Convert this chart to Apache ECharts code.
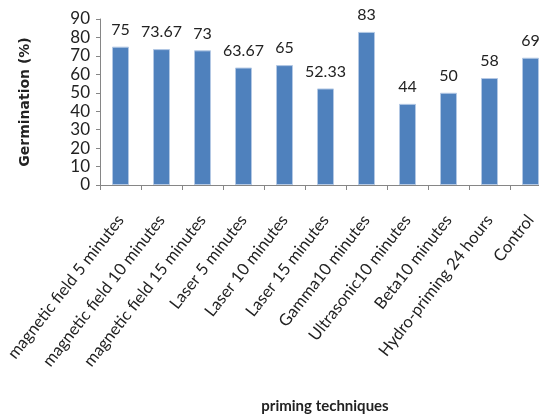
<!DOCTYPE html>
<html>
<head>
<meta charset="utf-8">
<script src="https://cdn.jsdelivr.net/npm/echarts@6/dist/echarts.min.js"></script>
<style>
  html, body { margin: 0; padding: 0; background: #ffffff; }
  #chart { width: 539px; height: 417px; }
</style>
</head>
<body>
<div id="chart"></div>
<script>
// Germination percentage for each seed priming technique
const categories = [
  'magnetic field 5 minutes',
  'magnetic field 10 minutes',
  'magnetic field 15 minutes',
  'Laser 5 minutes',
  'Laser 10 minutes',
  'Laser 15 minutes',
  'Gamma10 minutes',
  'Ultrasonic10 minutes',
  'Beta10 minutes',
  'Hydro-priming 24 hours',
  'Control'
];
const germination = [75, 73.67, 73, 63.67, 65, 52.33, 83, 44, 50, 58, 69];
const yTicks = [0, 10, 20, 30, 40, 50, 60, 70, 80, 90];

const font = 'Lato, "Open Sans", sans-serif';
const chart = echarts.init(document.getElementById('chart'), null, { renderer: 'canvas' });

chart.setOption({
  animation: false,
  backgroundColor: '#ffffff',
  // plot area runs slightly past the right edge of the canvas
  grid: {
    left: 100, width: 451, top: 19, height: 166,
    containLabel: false,
    outerBoundsMode: 'none'
  },
  xAxis: {
    type: 'category',
    data: categories,
    axisLine: { lineStyle: { color: '#868686', width: 1 } },
    axisTick: { show: true, length: 5, lineStyle: { color: '#868686' } },
    axisLabel: {
      rotate: 52,
      interval: 0,
      margin: 32,
      fontFamily: font,
      fontSize: 16.5,
      color: '#222222'
    }
  },
  yAxis: {
    type: 'value',
    min: yTicks[0],
    max: yTicks[yTicks.length - 1],
    interval: 10,
    splitLine: { show: false },
    axisLine: { show: true, lineStyle: { color: '#868686', width: 1 } },
    axisTick: { show: true, length: 4, lineStyle: { color: '#868686' } },
    axisLabel: {
      margin: 10,
      fontFamily: font,
      fontSize: 17,
      color: '#222222'
    }
  },
  series: [{
    type: 'bar',
    data: germination,
    barWidth: 17,
    itemStyle: { color: '#4F81BD', borderColor: '#b3c8e4', borderWidth: 1 },
    label: {
      show: true,
      position: 'top',
      distance: 9,
      fontFamily: font,
      fontSize: 16,
      color: '#222222'
    }
  }],
  graphic: [
    {
      type: 'text',
      x: 25,
      y: 102,
      rotation: Math.PI / 2,
      style: {
        text: 'Germination (%)',
        fontFamily: '"DejaVu Sans", sans-serif',
        fontWeight: 'bold',
        fontSize: 14,
        fill: '#222222',
        textAlign: 'center',
        textVerticalAlign: 'middle'
      }
    },
    {
      type: 'text',
      x: 325,
      y: 406,
      style: {
        text: 'priming techniques',
        fontFamily: font,
        fontWeight: 'bold',
        fontSize: 15,
        fill: '#222222',
        textAlign: 'center',
        textVerticalAlign: 'middle'
      }
    }
  ]
});
</script>
</body>
</html>
